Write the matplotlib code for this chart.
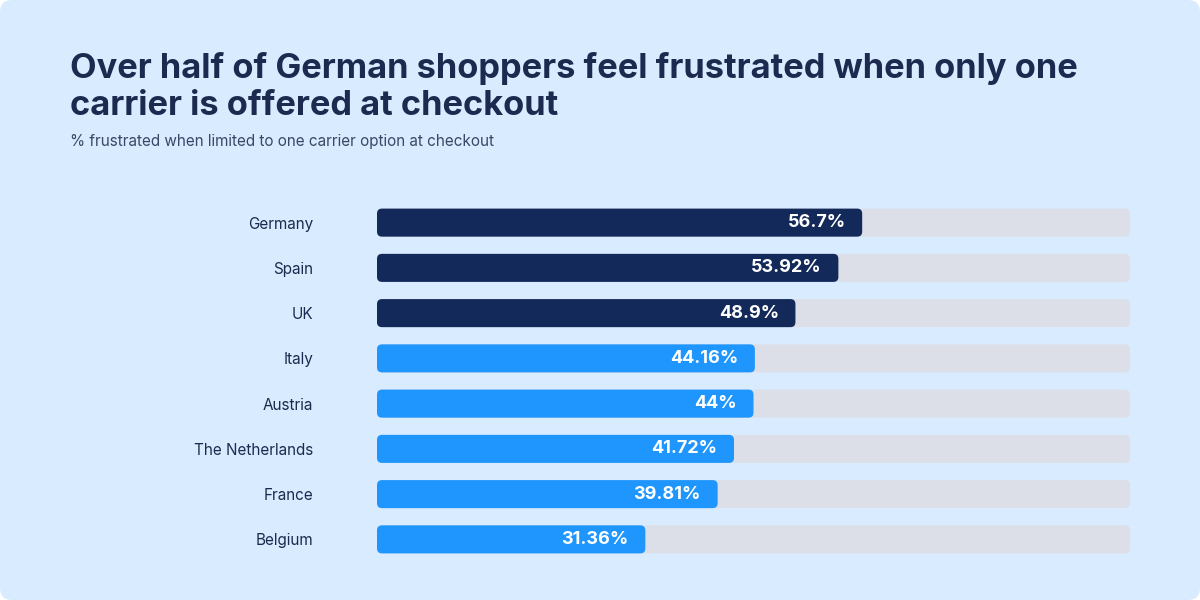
import matplotlib.pyplot as plt
from matplotlib.patches import FancyBboxPatch

countries = ["Germany", "Spain", "UK", "Italy", "Austria", "The Netherlands", "France", "Belgium"]
values = [56.7, 53.92, 48.9, 44.16, 44, 41.72, 39.81, 31.36]
labels = ["56.7%", "53.92%", "48.9%", "44.16%", "44%", "41.72%", "39.81%", "31.36%"]
highlight = [True, True, True, False, False, False, False, False]

track_max = 88
navy = "#13295a"
blue = "#1f96fd"
track = "#dcdfe7"
card = "#d9ecff"
text_col = "#1b2a4e"

plt.rcParams['font.family'] = ['Inter', 'DejaVu Sans']

fig = plt.figure(figsize=(12, 6), dpi=100)
fig.patch.set_facecolor("white")
fig.patches.append(FancyBboxPatch((0, 0), 1, 1, boxstyle="round,pad=0,rounding_size=0.01",
                                  transform=fig.transFigure, facecolor=card, edgecolor="none",
                                  mutation_aspect=2, zorder=-10))

fig.text(70/1200, 1 - 78/600, "Over half of German shoppers feel frustrated when only one",
         fontsize=24.8, fontweight="bold", color=text_col, va="baseline")
fig.text(70/1200, 1 - 115/600, "carrier is offered at checkout",
         fontsize=24.8, fontweight="bold", color=text_col, va="baseline")
fig.text(70/1200, 1 - 146/600, "% frustrated when limited to one carrier option at checkout",
         fontsize=11, color="#3b4766", va="baseline")

ax = fig.add_axes([377/1200, 1 - 562/600, 753/1200, 362/600])
ax.set_facecolor("none")
ax.set_xlim(0, track_max)
ax.set_ylim(len(countries) - 0.5, -0.5)
for s in ax.spines.values():
    s.set_visible(False)
ax.set_xticks([])
ax.set_yticks(range(len(countries)))
ax.set_yticklabels(countries, fontsize=11, color=text_col)
ax.tick_params(axis="y", length=0, pad=46)

bh = 0.62
px_x = 753 / track_max
px_y = 362 / len(countries)
asp = px_x / px_y
r = 5 / px_x
for i, (v, lab, hl) in enumerate(zip(values, labels, highlight)):
    ax.add_patch(FancyBboxPatch((0, i - bh/2), track_max, bh,
                                boxstyle=f"round,pad=0,rounding_size={r}",
                                mutation_aspect=asp, facecolor=track, edgecolor="none", zorder=1))
    ax.add_patch(FancyBboxPatch((0, i - bh/2), v, bh,
                                boxstyle=f"round,pad=0,rounding_size={r}",
                                mutation_aspect=asp, facecolor=navy if hl else blue,
                                edgecolor="none", zorder=2))
    ax.annotate(lab, (v, i), xytext=(-12, 0), textcoords="offset points",
                ha="right", va="center", fontsize=13, fontweight="bold", color="white", zorder=3)

fig.savefig("out.png", dpi=100, facecolor=fig.get_facecolor())
